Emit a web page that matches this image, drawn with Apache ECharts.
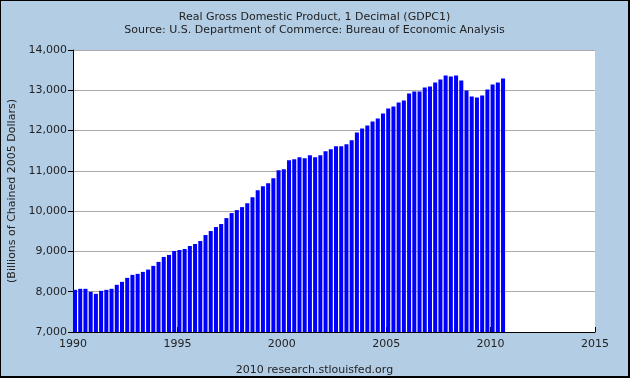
<!DOCTYPE html>
<html>
<head>
<meta charset="utf-8">
<script src="https://cdn.jsdelivr.net/npm/echarts@6/dist/echarts.min.js"></script>
<style>
html,body{margin:0;padding:0;background:#b3cde5;}
#c{width:630px;height:378px;box-sizing:border-box;border:1px solid #000;border-right-width:2px;border-bottom-width:2px;}
</style>
</head>
<body>
<div id="c"></div>
<script>
// Quarterly data: 1990Q1 .. 2010Q3
const firstYear = 1990;
const quarters = [];
for (let i = 0; i < 83; i++) {
  quarters.push((firstYear + Math.floor(i / 4)) + 'Q' + (i % 4 + 1));
}
const gdp = [
  8047, 8072, 8072, 7998,
  7948, 8022, 8047, 8072,
  8171, 8245, 8344, 8418,
  8443, 8492, 8550, 8641,
  8740, 8863, 8913, 9012,
  9036, 9061, 9135, 9185,
  9259, 9407, 9506, 9605,
  9680, 9828, 9952, 10026,
  10100, 10199, 10347, 10520,
  10619, 10694, 10817, 11015,
  11040, 11263, 11287, 11337,
  11312, 11386, 11337, 11386,
  11485, 11535, 11609, 11609,
  11658, 11757, 11955, 12054,
  12128, 12227, 12301, 12425,
  12549, 12598, 12697, 12747,
  12920, 12969, 12969, 13068,
  13093, 13192, 13266, 13365,
  13340, 13365, 13241, 12994,
  12846, 12821, 12871, 13019,
  13142, 13192, 13291
];
const xTicks = [1990, 1995, 2000, 2005, 2010, 2015];
const yTicks = [7000, 8000, 9000, 10000, 11000, 12000, 13000, 14000];
const titleText = 'Real Gross Domestic Product, 1 Decimal (GDPC1)\nSource: U.S. Department of Commerce: Bureau of Economic Analysis';
const footer = '2010 research.stlouisfed.org';
const yName = '(Billions of Chained 2005 Dollars)';

function qStart(label) {
  const y = parseInt(label.slice(0, 4), 10);
  const q = parseInt(label.slice(5), 10);
  return y + (q - 1) / 4;
}
const seriesData = quarters.map((q, i) => [qStart(q), gdp[i]]);

const chart = echarts.init(document.getElementById('c'), null, {renderer: 'canvas'});
const font = 'DejaVu Sans, Verdana, sans-serif';
chart.setOption({
  backgroundColor: '#b3cde5',
  animation: false,
  title: [{
    text: titleText,
    left: 'center', top: 5,
    textStyle: {fontFamily: font, fontSize: 11, fontWeight: 'normal', color: '#222', lineHeight: 13}
  }, {
    text: footer,
    left: 'center', top: 359,
    textStyle: {fontFamily: font, fontSize: 11, fontWeight: 'normal', color: '#222'}
  }],
  grid: {left: 72, right: 33, top: 49, bottom: 44, show: true, backgroundColor: '#fff', borderWidth: 0,
         containLabel: false, outerBoundsMode: 'none'},
  xAxis: {
    type: 'value', min: xTicks[0], max: xTicks[xTicks.length - 1], interval: 5,
    axisLine: {show: true, lineStyle: {color: '#000', width: 1}},
    axisTick: {show: true, inside: true, length: 5, lineStyle: {color: '#000'}},
    axisLabel: {fontFamily: font, fontSize: 11, color: '#222', margin: 7, formatter: v => String(v)},
    splitLine: {show: false}
  },
  yAxis: {
    type: 'value', min: yTicks[0], max: yTicks[yTicks.length - 1], interval: 1000,
    name: yName, nameLocation: 'middle', nameGap: 54, nameRotate: 90,
    nameTextStyle: {fontFamily: font, fontSize: 11, color: '#222'},
    axisLine: {show: true, lineStyle: {color: '#000', width: 1}},
    axisTick: {show: true, inside: false, length: 5, lineStyle: {color: '#000'}},
    axisLabel: {fontFamily: font, fontSize: 11, color: '#222', margin: 6,
      formatter: v => v.toLocaleString('en-US')},
    splitLine: {show: true, lineStyle: {color: '#aaa', width: 1}}
  },
  series: [{
    type: 'custom',
    data: seriesData,
    encode: {x: 0, y: 1},
    clip: true,
    renderItem: function (params, api) {
      const x0 = api.value(0);
      const v = api.value(1);
      const p0 = api.coord([x0, v]);
      const p1 = api.coord([x0 + 0.25, yTicks[0]]);
      return {
        type: 'rect',
        shape: {x: p0[0], y: p0[1], width: p1[0] - p0[0] - 1.2, height: p1[1] - p0[1]},
        style: {fill: '#0000ff'}
      };
    }
  }]
});
</script>
</body>
</html>
